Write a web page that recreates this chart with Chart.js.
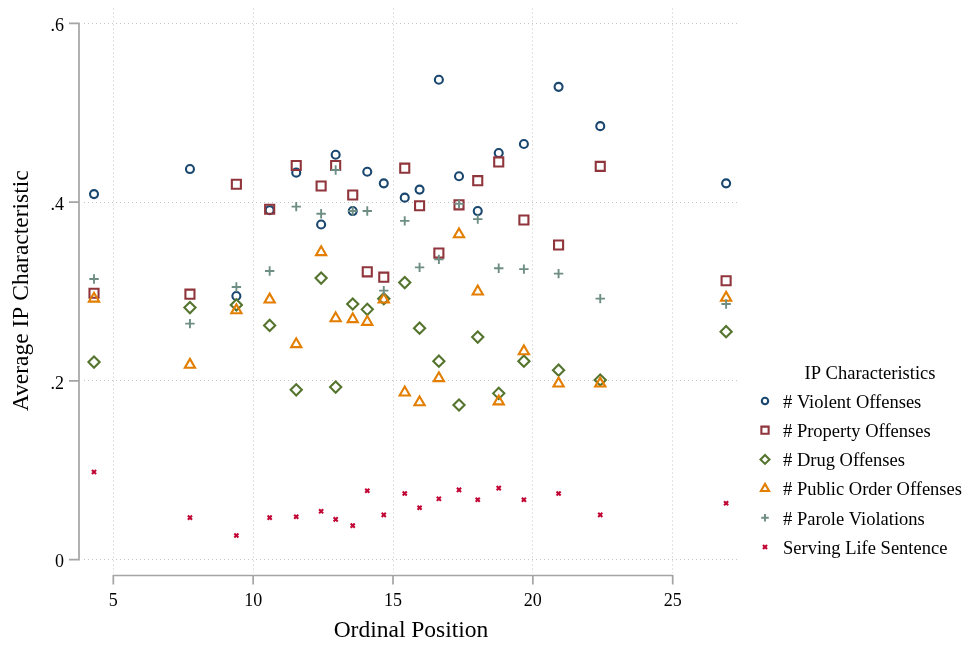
<!DOCTYPE html>
<html>
<head>
<meta charset="utf-8">
<title>IP Characteristics by Ordinal Position</title>
<script src="https://cdn.jsdelivr.net/npm/chart.js@4/dist/chart.umd.min.js"></script>
<style>
  html, body { margin: 0; padding: 0; background: #ffffff; }
  #wrap { width: 969px; height: 646px; }
</style>
</head>
<body>
<div id="wrap"><canvas id="chart" width="969" height="646"></canvas></div>
<script>
// Ordinal positions (x) shared by every series
const ordinalPosition = [4.31, 7.74, 9.40, 10.59, 11.54, 12.43, 12.95, 13.56, 14.08, 14.67,
                         15.42, 15.95, 16.64, 17.36, 18.03, 18.78, 19.68, 20.92, 22.41, 26.91];

// Average characteristic for each series
const violentOffenses = [0.409, 0.437, 0.295, 0.391, 0.433, 0.375, 0.453, 0.390, 0.434, 0.421,
                         0.405, 0.414, 0.537, 0.429, 0.390, 0.455, 0.465, 0.529, 0.485, 0.421];
const propertyOffenses = [0.298, 0.297, 0.420, 0.392, 0.441, 0.418, 0.441, 0.408, 0.322, 0.316,
                          0.438, 0.396, 0.343, 0.397, 0.424, 0.445, 0.380, 0.352, 0.440, 0.312];
const drugOffenses = [0.221, 0.282, 0.285, 0.262, 0.190, 0.315, 0.193, 0.286, 0.280, 0.292,
                      0.310, 0.259, 0.222, 0.173, 0.249, 0.186, 0.222, 0.212, 0.201, 0.255];
const publicOrderOffenses = [0.292, 0.218, 0.279, 0.291, 0.241, 0.344, 0.270, 0.269, 0.266, 0.291,
                             0.187, 0.176, 0.203, 0.364, 0.300, 0.177, 0.233, 0.197, 0.197, 0.293];
const paroleViolations = [0.314, 0.264, 0.305, 0.323, 0.395, 0.387, 0.436, 0.390, 0.390, 0.301,
                          0.379, 0.327, 0.336, 0.398, 0.381, 0.326, 0.325, 0.320, 0.292, 0.286];
const servingLifeSentence = [0.098, 0.047, 0.027, 0.047, 0.048, 0.054, 0.045, 0.038, 0.077, 0.050,
                             0.074, 0.058, 0.068, 0.078, 0.067, 0.080, 0.067, 0.074, 0.050, 0.063];

const seriesLabels = ['# Violent Offenses', '# Property Offenses', '# Drug Offenses',
                      '# Public Order Offenses', '# Parole Violations', 'Serving Life Sentence'];
const legendTitle = 'IP Characteristics';

// Axis ticks and labels
const xTickValues = [5, 10, 15, 20, 25];
const yTickValues = [0, 0.2, 0.4, 0.6];
const yTickLabels = ['0', '.2', '.4', '.6'];

const SERIF = '"Liberation Serif", "Times New Roman", Times, serif';

// Marker look for each series (legendScale shrinks the key symbol)
const markerStyles = [
  { color: '#1a476f', pointStyle: 'circle',   radius: 4.0, borderWidth: 2.1, legendScale: 0.8 },
  { color: '#90353b', pointStyle: 'rect',     radius: 6.4, borderWidth: 2.1, legendScale: 0.8 },
  { color: '#55752f', pointStyle: 'rectRot',  radius: 5.6, borderWidth: 2.1, legendScale: 0.8 },
  { color: '#e37e00', pointStyle: 'triangle', radius: 5.9, borderWidth: 2.1, legendScale: 0.8 },
  { color: '#6e8e84', pointStyle: 'cross',    radius: 4.7, borderWidth: 1.9, legendScale: 0.8 },
  { color: '#c10534', pointStyle: 'crossRot', radius: 2.9, borderWidth: 2.1, legendScale: 1.0 }
];

const seriesValues = [violentOffenses, propertyOffenses, drugOffenses,
                      publicOrderOffenses, paroleViolations, servingLifeSentence];

const datasets = seriesValues.map((vals, i) => ({
  label: seriesLabels[i],
  data: vals.map((v, j) => ({ x: ordinalPosition[j], y: v })),
  pointStyle: markerStyles[i].pointStyle,
  pointRadius: markerStyles[i].radius,
  pointBorderWidth: markerStyles[i].borderWidth,
  pointBorderColor: markerStyles[i].color,
  pointBackgroundColor: 'rgba(0,0,0,0)',
  borderColor: markerStyles[i].color,
  backgroundColor: 'rgba(0,0,0,0)',
  showLine: false,
  order: seriesValues.length - 1 - i
}));

// Axis lines offset from the plot region, spanning first to last tick
const axisLines = {
  id: 'axisLines',
  afterDraw(chart) {
    const { ctx, chartArea, scales } = chart;
    const xs = scales.x, ys = scales.y;
    ctx.save();
    ctx.strokeStyle = '#a4a4a4';
    ctx.lineWidth = 1.7;
    ctx.lineCap = 'butt';
    // y axis
    const ax = chartArea.left - 5;
    const yTop = ys.getPixelForValue(yTickValues[yTickValues.length - 1]);
    const yBot = ys.getPixelForValue(yTickValues[0]);
    ctx.beginPath();
    ctx.moveTo(ax, yTop - 0.85);
    ctx.lineTo(ax, yBot + 0.85);
    yTickValues.forEach(v => {
      const p = ys.getPixelForValue(v);
      ctx.moveTo(ax, p);
      ctx.lineTo(ax - 10, p);
    });
    ctx.stroke();
    // x axis
    const ay = chartArea.bottom + 2.5;
    const xL = xs.getPixelForValue(xTickValues[0]);
    const xR = xs.getPixelForValue(xTickValues[xTickValues.length - 1]);
    ctx.beginPath();
    ctx.moveTo(xL - 0.85, ay);
    ctx.lineTo(xR + 0.85, ay);
    xTickValues.forEach(v => {
      const p = xs.getPixelForValue(v);
      ctx.moveTo(p, ay);
      ctx.lineTo(p, ay + 9);
    });
    ctx.stroke();
    ctx.restore();
  }
};

// Legend to the right of the plot region
const sideLegend = {
  id: 'sideLegend',
  afterDraw(chart) {
    const { ctx, chartArea } = chart;
    const markerX = chartArea.right + 27;
    const textX = chartArea.right + 45;
    const firstY = 401;
    const step = 29.2;
    ctx.save();
    ctx.fillStyle = '#000';
    ctx.font = '18.5px ' + SERIF;
    ctx.textBaseline = 'middle';
    ctx.textAlign = 'center';
    ctx.fillText(legendTitle, 870, 374);
    ctx.textAlign = 'left';
    chart.data.datasets.forEach((ds, i) => {
      const y = firstY + i * step;
      const ms = markerStyles[i];
      ctx.save();
      ctx.strokeStyle = ms.color;
      ctx.fillStyle = 'rgba(0,0,0,0)';
      ctx.lineWidth = ms.borderWidth;
      Chart.helpers.drawPoint(ctx, {
        pointStyle: ms.pointStyle,
        radius: ms.radius * ms.legendScale,
        rotation: 0,
        borderWidth: ms.borderWidth
      }, markerX, y);
      ctx.restore();
      ctx.fillStyle = '#000';
      ctx.fillText(ds.label, textX, y + 2);
    });
    ctx.restore();
  }
};

new Chart(document.getElementById('chart'), {
  type: 'scatter',
  data: { datasets },
  plugins: [axisLines, sideLegend],
  options: {
    responsive: false,
    animation: false,
    events: [],
    layout: { padding: { left: 0, right: 231, top: 5, bottom: 0 } },
    plugins: {
      legend: { display: false },
      tooltip: { enabled: false }
    },
    scales: {
      x: {
        type: 'linear',
        position: 'bottom',
        min: 3.952,
        max: 27.335,
        afterFit(scale) {
          scale.height = 73;
          scale.paddingLeft = 0;
          scale.paddingRight = 0;
        },
        afterBuildTicks(scale) { scale.ticks = xTickValues.map(v => ({ value: v })); },
        grid: { color: '#c4c4c4', lineWidth: 1, drawTicks: false },
        border: { display: false, dash: [1, 3] },
        ticks: {
          color: '#000',
          font: { family: SERIF, size: 18 },
          padding: 17,
          maxRotation: 0,
          callback: v => String(v)
        },
        title: {
          display: true,
          text: 'Ordinal Position',
          color: '#000',
          font: { family: SERIF, size: 23.5 },
          padding: { top: 0, bottom: 1 }
        }
      },
      y: {
        type: 'linear',
        position: 'left',
        min: -0.01501,
        max: 0.61668,
        afterFit(scale) {
          scale.width = 84;
          scale.paddingTop = 0;
          scale.paddingBottom = 0;
        },
        afterBuildTicks(scale) { scale.ticks = yTickValues.map(v => ({ value: v })); },
        grid: { color: '#c4c4c4', lineWidth: 1, drawTicks: false },
        border: { display: false, dash: [1, 3] },
        ticks: {
          color: '#000',
          font: { family: SERIF, size: 18 },
          padding: 20,
          labelOffset: 3,
          callback: v => {
            const k = yTickValues.indexOf(v);
            return k >= 0 ? yTickLabels[k] : '';
          }
        },
        title: {
          display: true,
          text: 'Average IP Characteristic',
          color: '#000',
          font: { family: SERIF, size: 23.5 },
          padding: { top: 8, bottom: 0 }
        }
      }
    }
  }
});
</script>
</body>
</html>
